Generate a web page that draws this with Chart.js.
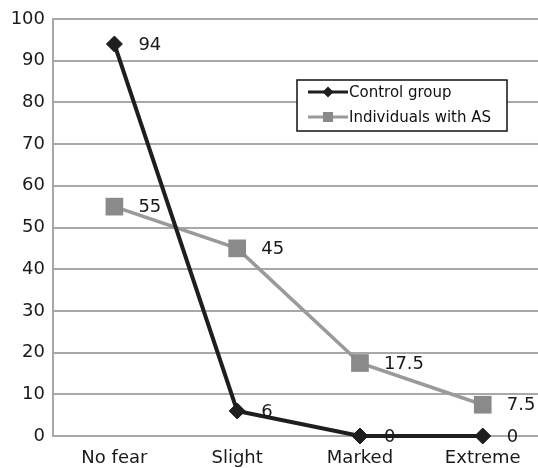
<!DOCTYPE html>
<html>
<head>
<meta charset="utf-8">
<script src="https://cdn.jsdelivr.net/npm/chart.js@4"></script>
<style>
html,body{margin:0;padding:0;background:#fff;overflow:hidden;}
</style>
</head>
<body>
<canvas id="c" width="538" height="468"></canvas>
<script>
const categories = ["No fear", "Slight", "Marked", "Extreme"];
const controlGroup = [94, 6, 0, 0];
const individualsAS = [55, 45, 17.5, 7.5];
const yTicks = [0, 10, 20, 30, 40, 50, 60, 70, 80, 90, 100];
const seriesNames = ["Control group", "Individuals with AS"];

const FONT = "DejaVu Sans";
const BLACK = "#1e1e1e";
const GRAY_LINE = "#9a9a9a";
const GRAY_MARK = "#8a8a8a";
const GRID = "#a8a8a8";

const toPoints = arr => arr.map((v, i) => ({ x: i, y: v }));

const valueLabels = {
  id: 'valueLabels',
  afterDatasetsDraw(chart) {
    const ctx = chart.ctx;
    ctx.save();
    ctx.font = "18px '" + FONT + "'";
    ctx.fillStyle = "#1a1a1a";
    ctx.textAlign = "left";
    ctx.textBaseline = "middle";
    chart.data.datasets.forEach((ds, di) => {
      const meta = chart.getDatasetMeta(di);
      meta.data.forEach((pt, i) => {
        ctx.fillText(String(ds.data[i].y), pt.x + 24, pt.y + 1);
      });
    });
    ctx.restore();
  }
};

const boxLegend = {
  id: 'boxLegend',
  afterDraw(chart) {
    const ctx = chart.ctx;
    const x0 = 297, y0 = 80, w = 210, h = 51;
    ctx.save();
    ctx.fillStyle = "#fff";
    ctx.fillRect(x0, y0, w, h);
    ctx.strokeStyle = "#111";
    ctx.lineWidth = 1.5;
    ctx.strokeRect(x0, y0, w, h);
    const rows = [92, 117];
    chart.data.datasets.forEach((ds, di) => {
      const y = rows[di];
      ctx.strokeStyle = ds.borderColor;
      ctx.lineWidth = 3;
      ctx.beginPath();
      ctx.moveTo(308, y);
      ctx.lineTo(348, y);
      ctx.stroke();
      ctx.fillStyle = ds.pointBackgroundColor;
      ctx.beginPath();
      if (di === 0) {
        const r = 5.5;
        ctx.moveTo(328 - r, y); ctx.lineTo(328, y - r); ctx.lineTo(328 + r, y); ctx.lineTo(328, y + r);
        ctx.closePath();
      } else {
        ctx.rect(328 - 5, y - 5, 10, 10);
      }
      ctx.fill();
      ctx.fillStyle = "#111";
      ctx.font = "15px '" + FONT + "'";
      ctx.textAlign = "left";
      ctx.textBaseline = "middle";
      ctx.fillText(ds.label, 349, y + 1);
    });
    ctx.restore();
  }
};

new Chart(document.getElementById('c'), {
  type: 'line',
  data: {
    datasets: [
      {
        label: seriesNames[0],
        data: toPoints(controlGroup),
        borderColor: BLACK,
        backgroundColor: BLACK,
        pointBackgroundColor: BLACK,
        pointBorderColor: BLACK,
        borderWidth: 4,
        pointStyle: 'rectRot',
        pointRadius: 8,
        pointBorderWidth: 1,
        tension: 0,
        clip: false
      },
      {
        label: seriesNames[1],
        data: toPoints(individualsAS),
        borderColor: GRAY_LINE,
        backgroundColor: GRAY_MARK,
        pointBackgroundColor: GRAY_MARK,
        pointBorderColor: GRAY_MARK,
        borderWidth: 3.5,
        pointStyle: 'rect',
        pointRadius: 12.5,
        pointBorderWidth: 0,
        tension: 0,
        clip: false
      }
    ]
  },
  options: {
    responsive: false,
    animation: false,
    events: [],
    layout: { autoPadding: false, padding: { top: 19, right: 0, bottom: 0, left: 0 } },
    plugins: { legend: { display: false }, tooltip: { enabled: false } },
    scales: {
      x: {
        type: 'linear',
        min: -0.5,
        max: 3.45,
        afterBuildTicks(s) { s.ticks = categories.map((c, i) => ({ value: i })); },
        grid: { display: false, drawTicks: false },
        border: { display: true, color: GRID, width: 2 },
        ticks: {
          color: "#1a1a1a", font: { family: FONT, size: 18 }, padding: 12, maxRotation: 0, autoSkip: false,
          callback: (v) => categories[v]
        },
        afterFit(s) { s.height = 32; s.paddingLeft = 0; s.paddingRight = 0; }
      },
      y: {
        min: 0, max: 100,
        afterBuildTicks(s) { s.ticks = yTicks.map(v => ({ value: v })); },
        grid: { color: GRID, lineWidth: 2, drawTicks: false },
        border: { display: true, color: GRID, width: 2 },
        ticks: { color: "#1a1a1a", font: { family: FONT, size: 18 }, padding: 8 },
        afterFit(s) { s.width = 53; }
      }
    }
  },
  plugins: [valueLabels, boxLegend]
});
</script>
</body>
</html>
